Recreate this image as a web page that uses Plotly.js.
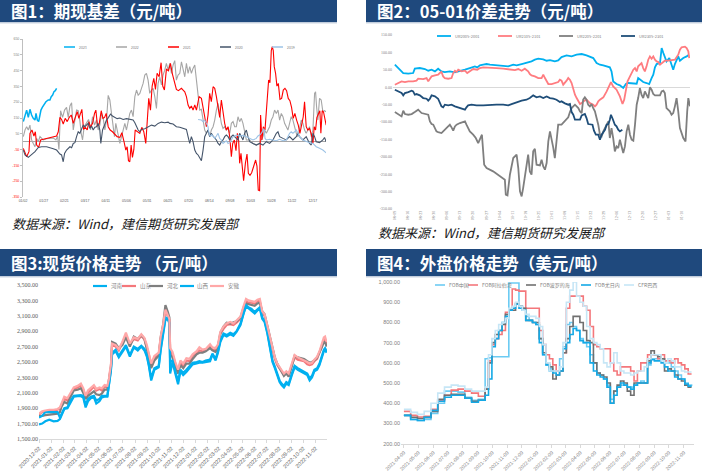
<!DOCTYPE html>
<html><head><meta charset="utf-8">
<script src="https://cdn.plot.ly/plotly-3.0.1.min.js"></script>
<style>html,body{margin:0;padding:0;background:#fff;}#chart{width:702px;height:474px;}</style>
</head><body><div id="chart"></div>
<script>
// ---------------- Panel 1: 期现基差 (day-of-year, value) ----------------
const p1Names = ['2023','2022','2021','2020','2019'];
const p1Colors = ['#00B0F0','#A6A6A6','#FF0000','#44546A','#9DC3E6'];
const p1TickVals = [2,27,52,77,102,127,152,177,202,227,252,277,302,327,352];
const p1TickText = ['01/02','01/27','02/21','03/17','04/11','05/06','05/31','06/25','07/20','08/14','09/08','10/03','10/28','11/22','12/17'];
const p1YTicks = [650,550,450,350,250,150,50,-50,-150,-250,-350];
const s2023 = [[2.4,127],[4.4,169],[6.4,200],[8.4,154],[10.4,205],[12.4,169],[14.4,148],[16.5,137],[17.7,179],[19.3,137],[20.9,127],[22.5,169],[23.7,200],[25.3,217],[27.3,232],[29.7,253],[32.5,264],[34.5,264],[36.1,285],[37.8,295],[39.4,317],[41.0,323],[42.6,338]];
const s2022 = [[2.4,32],[4.4,74],[6.4,95],[8.4,74],[10.4,105],[12.4,11],[14.4,-11],[16.5,-32],[18.5,21],[20.5,0],[22.5,32],[26.5,11],[30.5,19],[34.5,19],[38.6,23],[41.8,11],[43.8,36],[45.4,-49],[47.4,196],[49.8,154],[52.2,200],[54.6,217],[56.7,154],[58.7,226],[60.7,247],[62.7,74],[64.7,154],[66.7,200],[68.7,196],[70.7,133],[72.3,53],[73.9,11],[75.9,95],[78.8,116],[81.2,141],[83.6,74],[86.0,158],[88.4,105],[90.8,137],[92.8,74],[94.8,105],[96.8,179],[98.9,148],[100.9,74],[102.9,137],[104.9,293],[106.9,264],[108.9,179],[110.9,74],[112.5,32],[114.1,116],[115.7,84],[117.4,32],[119.0,-11],[121.0,32],[123.0,74],[125.0,116],[127.0,74],[129.0,137],[131.0,179],[133.0,200],[135.0,158],[137.1,285],[139.1,327],[141.1,295],[143.1,306],[145.1,338],[147.1,369],[149.1,422],[151.1,433],[153.1,390],[155.1,306],[157.2,327],[159.2,338],[161.2,285],[163.2,211],[165.2,369],[167.2,411],[169.2,359],[171.2,422],[173.2,453],[175.2,496],[177.3,453],[179.3,496],[181.3,433],[183.3,485],[185.3,513],[187.3,390],[189.3,422],[191.4,433],[193.4,506],[195.4,453],[197.4,411],[199.4,496],[201.4,433],[203.4,475],[205.4,433],[207.4,464],[209.5,485],[211.5,390],[213.5,306],[215.5,200],[217.5,205],[219.5,137],[221.5,74],[223.5,53],[225.5,74],[227.5,32],[229.5,74],[231.6,95],[233.6,137],[235.6,200],[237.6,243],[239.6,179],[241.6,116],[243.6,84],[245.6,95],[247.6,74],[249.7,84],[251.7,53],[253.7,116],[255.7,127],[257.7,95],[259.7,95],[261.7,158],[263.7,127],[265.7,148],[267.7,116],[269.7,53],[271.8,11],[275.8,11],[279.8,-11],[283.8,-21],[287.8,-11],[291.9,32],[293.9,74],[295.9,53],[297.9,74],[299.9,95],[301.9,137],[303.9,158],[305.9,200],[308.0,179],[310.0,200],[312.0,137],[314.0,179],[316.0,158],[318.0,116],[320.0,95],[322.0,74],[324.0,116],[326.0,158],[328.0,137],[330.1,95],[332.1,53],[334.1,32],[336.1,95],[338.1,137],[340.1,116],[342.1,74],[344.1,53],[346.1,74],[348.1,95],[350.2,32],[352.2,74],[354.2,306],[355.4,316],[356.6,222],[358.2,137],[360.2,274],[362.2,264],[364.2,190],[366.2,196],[368.2,190]];
const s2021 = [[2.4,-42],[6.4,-95],[9.2,-63],[10.4,53],[12.8,74],[15.2,36],[16.9,63],[18.5,-21],[20.9,-36],[23.3,11],[26.5,15],[30.5,21],[34.5,27],[38.6,32],[42.6,36],[44.6,63],[46.6,154],[48.6,141],[50.6,112],[53.0,148],[55.4,127],[57.9,154],[60.3,169],[62.7,116],[65.1,154],[67.5,190],[69.5,148],[71.5,184],[73.1,205],[75.1,78],[77.2,91],[79.6,74],[81.6,127],[83.6,91],[86.0,116],[88.4,179],[90.0,200],[92.0,99],[94.0,112],[96.5,196],[98.5,148],[100.5,154],[102.5,179],[104.9,95],[107.3,74],[110.1,63],[113.0,49],[115.7,32],[119.0,27],[121.4,57],[123.8,6],[126.2,-53],[127.8,-32],[129.4,-120],[131.0,-127],[132.6,-21],[134.2,-99],[135.9,-49],[137.5,74],[139.9,63],[143.1,53],[145.5,91],[147.9,63],[150.3,-11],[151.9,95],[153.9,274],[156.0,200],[158.0,352],[160.0,401],[162.0,331],[164.0,433],[166.4,411],[168.8,500],[170.8,352],[172.8,327],[175.2,458],[177.7,449],[180.1,496],[182.5,428],[184.9,369],[187.3,331],[189.7,323],[193.4,338],[195.4,327],[197.4,316],[199.4,285],[201.4,232],[203.4,211],[205.4,226],[207.4,200],[209.5,232],[211.5,200],[214.7,285],[217.5,274],[219.5,226],[221.5,158],[223.5,95],[225.5,169],[227.5,306],[229.5,253],[231.6,348],[233.6,338],[235.6,285],[237.6,222],[239.6,154],[241.6,264],[243.6,179],[245.6,116],[247.6,74],[249.7,95],[251.7,32],[253.7,-95],[255.3,-11],[257.3,11],[259.3,-57],[260.9,53],[262.5,6],[263.7,-137],[265.3,-74],[267.0,-184],[268.5,-247],[270.6,-137],[272.6,-78],[274.2,-200],[276.2,-213],[278.2,-196],[280.6,-158],[283.0,-116],[284.6,-154],[286.2,-306],[287.8,-310],[289.0,169],[290.6,11],[292.3,95],[294.3,74],[295.9,200],[297.1,327],[298.7,390],[300.3,373],[301.9,576],[303.1,601],[304.3,576],[305.5,475],[307.1,433],[308.7,352],[310.4,369],[312.4,268],[314.4,274],[316.4,327],[318.4,338],[320.4,323],[322.4,274],[324.4,260],[326.4,217],[328.4,148],[330.4,179],[332.5,137],[334.5,105],[336.5,53],[338.5,116],[340.5,158],[342.1,253],[344.1,95],[346.1,74],[348.1,84],[350.2,49],[352.2,-11],[353.8,95],[355.4,74],[357.0,154],[359.0,179],[360.6,196],[361.8,53],[363.4,196],[365.0,188],[367.0,137],[368.2,105]];
const s2020 = [[2.4,-53],[4.4,-84],[8.4,-99],[12.4,-84],[16.5,-63],[20.5,-36],[24.5,-32],[30.5,-32],[34.5,-36],[38.6,-44],[42.6,-53],[44.6,-70],[46.6,-78],[48.6,-84],[50.6,-127],[52.2,-74],[54.6,-53],[58.7,-32],[60.7,-38],[62.7,-11],[64.7,-6],[66.7,32],[68.7,63],[70.7,53],[72.7,74],[74.7,105],[76.7,95],[78.8,105],[80.8,116],[82.8,84],[84.8,99],[86.8,74],[88.8,91],[90.8,95],[92.8,116],[94.8,74],[96.0,-11],[98.1,74],[100.5,112],[102.9,137],[105.3,154],[107.7,175],[110.1,162],[113.0,154],[115.7,146],[119.0,150],[123.0,141],[127.0,146],[131.0,141],[135.0,137],[137.1,120],[139.1,95],[141.1,74],[143.1,63],[145.1,78],[149.1,82],[153.1,91],[157.2,105],[161.2,99],[165.2,116],[169.2,124],[173.2,120],[177.3,124],[179.3,116],[183.3,112],[187.3,95],[191.4,91],[195.4,84],[199.4,78],[201.4,32],[203.4,-11],[205.4,32],[207.4,0],[209.5,-53],[211.5,-74],[213.5,-84],[215.5,-105],[217.5,-120],[219.5,-53],[221.5,32],[223.5,53],[225.5,74],[227.5,32],[229.5,53],[231.6,36],[235.6,11],[237.6,-11],[239.6,-21],[241.6,0],[243.6,11],[245.6,32],[247.6,42],[249.7,32],[251.7,11],[253.7,32],[255.7,42],[259.7,21],[261.7,11],[263.7,53],[265.7,32],[267.7,11],[269.7,53],[271.8,74],[273.8,32],[275.8,0],[279.8,-11],[283.8,-21],[287.8,-11],[291.9,-21],[295.9,0],[299.9,-11],[303.9,11],[305.9,32],[308.0,53],[310.0,63],[312.0,32],[316.0,21],[320.0,11],[324.0,32],[328.0,11],[332.1,32],[334.1,53],[336.1,32],[340.1,11],[344.1,32],[348.1,-11],[350.2,-21],[352.2,53],[354.2,32],[356.2,0],[360.2,-6],[364.2,11],[366.2,27],[368.2,0]];
const s2019 = [[213.5,141],[217.5,137],[219.5,127],[221.5,137],[223.5,116],[225.5,95],[226.7,53],[228.3,32],[230.0,44],[231.6,32],[233.6,21],[235.6,36],[237.6,53],[239.6,21],[241.6,11],[243.6,-11],[245.6,0],[247.6,6],[249.7,-11],[251.7,-6],[253.7,11],[255.7,32],[257.7,36],[259.7,42],[263.7,36],[267.7,40],[271.8,32],[275.8,21],[279.8,11],[283.8,21],[285.8,36],[287.8,42],[289.9,53],[291.9,74],[293.1,84],[294.3,21],[295.9,11],[299.9,15],[303.9,11],[308.0,6],[312.0,15],[316.0,6],[320.0,11],[322.0,32],[324.0,53],[326.0,63],[328.0,53],[330.1,63],[332.1,74],[334.1,53],[336.1,32],[340.1,11],[344.1,0],[348.1,-6],[352.2,-11],[356.2,-32],[360.2,-42],[364.2,-53],[368.2,-70]];

// ---------------- Panel 2: 05-01价差 (days since 08-09, value) ----------------
const p2Names = ['UR2005-2001','UR2105-2101','UR2205-2201','UR2305-2301'];
const p2Colors = ['#00B0F0','#FF7C80','#7F7F7F','#1F4E79'];
const p2TickText = ['08-09','08-16','08-23','08-30','09-06','09-13','09-20','09-27','10-04','10-11','10-18','10-25','11-01','11-08','11-15','11-22','11-29','12-06','12-13','12-20','12-27','01-03','01-10'];
const p2YTicks = [150,100,50,0,-50,-100,-150,-200,-250,-300,-350];
const u2005 = [[0,64.6],[0.9,59.9],[2.7,50.3],[4.5,40.7],[7.2,38.8],[9.8,40.7],[10.7,53.2],[13.4,55.1],[16.1,52.2],[17.9,47.4],[19.7,50.3],[21.5,45.5],[23.2,53.2],[25.0,45.5],[26.8,43.6],[29.5,45.5],[32.2,42.6],[34.9,45.5],[37.6,50.3],[40.2,55.1],[42.9,59.9],[44.2,57.0],[45.6,62.7],[47.4,64.6],[49.2,66.6],[51.0,64.6],[54.5,62.7],[58.1,60.8],[60.8,59.9],[63.5,64.6],[65.3,62.7],[68.0,66.6],[70.6,69.4],[73.3,74.2],[75.1,79.0],[76.9,81.9],[79.6,80.0],[81.4,76.1],[83.2,78.0],[85.8,74.2],[87.6,77.1],[89.4,86.7],[92.1,91.5],[94.8,88.6],[97.5,93.4],[100.2,95.3],[102.8,91.5],[104.6,88.6],[106.4,83.8],[108.2,69.4],[110.0,64.6],[111.8,62.7],[113.6,59.9],[115.3,57.0],[116.2,45.5],[117.1,16.7],[118.9,9.1],[120.7,5.2],[122.5,-2.4],[123.9,9.1],[125.2,12.0],[127.9,12.0],[129.7,10.0],[130.5,26.3],[131.4,21.5],[133.2,14.8],[135.0,12.0],[136.4,9.1],[137.7,26.3],[138.6,35.9],[139.5,57.0],[140.4,66.6],[142.2,69.4],[143.1,112.5],[144.0,98.2],[145.7,74.2],[147.2,83.8],[148.4,64.6],[149.3,50.3],[150.2,66.6],[151.1,79.0],[152.0,88.6],[152.9,76.1],[154.7,83.8],[156.5,88.6],[157.7,93.4]];
const u2105 = [[0,7.2],[1.8,12.0],[3.6,16.7],[5.4,14.8],[7.2,16.7],[9.8,16.7],[11.6,18.7],[12.5,24.4],[15.2,23.4],[17.0,26.3],[17.9,16.7],[18.8,24.4],[19.7,31.1],[21.5,34.0],[23.2,35.9],[24.1,40.7],[25.0,43.6],[25.9,31.1],[26.8,26.3],[28.6,24.4],[30.4,26.3],[31.3,40.7],[32.2,47.4],[33.1,43.6],[34.0,50.3],[35.8,45.5],[37.6,47.4],[38.8,40.7],[40.2,45.5],[42.0,52.2],[44.2,50.3],[45.6,55.1],[47.4,57.0],[51.0,57.0],[54.5,55.1],[58.1,53.2],[61.7,50.3],[64.4,49.3],[66.2,52.2],[68.0,47.4],[69.7,53.2],[71.5,45.5],[72.4,37.8],[73.3,34.0],[75.1,31.1],[76.9,26.3],[78.7,26.3],[79.6,35.9],[80.5,26.3],[81.4,16.7],[82.3,9.1],[84.1,9.1],[85.8,12.0],[87.6,14.8],[88.5,21.5],[89.4,18.7],[90.3,7.2],[91.2,12.0],[92.1,18.7],[93.0,26.3],[93.9,21.5],[94.8,12.0],[95.7,-7.2],[96.6,-21.6],[97.5,-31.2],[98.4,-40.7],[99.3,-48.4],[100.2,-45.5],[101.0,-40.7],[102.8,-35.9],[104.6,-45.5],[106.4,-50.3],[107.3,-55.1],[108.2,-50.3],[109.1,-40.7],[110.0,-35.9],[111.8,-29.2],[113.6,-12.0],[115.3,7.2],[115.9,14.8],[117.1,2.4],[118.9,-7.2],[120.7,-26.4],[122.1,-48.4],[123.0,-35.9],[123.9,-12.0],[124.8,16.7],[126.1,31.1],[127.0,40.7],[127.9,50.3],[128.8,55.1],[129.7,45.5],[130.5,59.9],[131.4,64.6],[132.3,69.4],[133.2,55.1],[134.1,45.5],[135.0,59.9],[135.9,79.0],[136.8,88.6],[137.7,81.9],[138.6,88.6],[139.5,79.0],[140.4,74.2],[141.3,72.3],[142.2,64.6],[143.1,69.4],[144.0,74.2],[144.8,76.1],[146.6,76.1],[148.4,78.0],[150.2,79.0],[152.0,93.4],[152.9,107.8],[153.8,114.5],[155.6,116.4],[156.5,112.5],[157.4,103.0],[157.9,83.8]];
const u2205 = [[0,-71.4],[1.8,-77.1],[3.6,-83.9],[4.5,-67.6],[5.4,-77.1],[7.2,-79.1],[9.0,-77.1],[10.7,-71.4],[12.5,-64.7],[14.3,-74.3],[16.1,-77.1],[17.9,-79.1],[18.8,-98.2],[19.7,-105.9],[20.6,-107.8],[21.5,-117.4],[22.3,-127.0],[23.2,-128.9],[25.0,-131.8],[25.9,-127.0],[26.8,-122.2],[27.7,-117.4],[28.6,-112.6],[29.5,-107.8],[30.4,-115.5],[31.3,-125.0],[32.2,-112.6],[33.1,-107.8],[34.9,-103.0],[36.7,-100.1],[37.6,-98.2],[38.4,-107.8],[40.2,-127.0],[42.0,-136.5],[43.4,-146.1],[44.7,-160.5],[45.6,-151.0],[46.7,-136.5],[47.9,-222.8],[49.2,-232.3],[52.7,-241.9],[56.3,-256.3],[59.0,-265.9],[59.5,-309.0],[60.4,-310.9],[61.7,-251.5],[63.5,-203.6],[65.3,-194.0],[66.2,-232.3],[67.1,-299.4],[68.0,-313.8],[68.8,-289.8],[70.6,-222.8],[71.5,-194.0],[72.4,-241.9],[73.3,-251.5],[74.2,-184.4],[75.1,-176.8],[76.0,-222.8],[77.8,-224.7],[78.7,-208.4],[79.6,-227.6],[80.5,-237.1],[81.4,-218.0],[82.3,-155.7],[83.2,-127.0],[85.0,-174.9],[85.8,-203.6],[86.7,-155.7],[87.6,-107.8],[89.4,-107.8],[90.3,-103.0],[92.1,-93.4],[93.0,-86.7],[93.9,-71.4],[94.8,-59.9],[95.7,-55.1],[96.6,-50.3],[97.5,-55.1],[98.4,-59.9],[99.3,-69.5],[100.2,-74.3],[101.0,-35.9],[101.9,-29.2],[102.8,-35.9],[103.7,-50.3],[104.6,-55.1],[105.5,-48.4],[106.4,-59.9],[107.3,-69.5],[108.2,-88.6],[109.1,-107.8],[110.0,-136.5],[110.9,-141.3],[111.8,-127.0],[112.7,-117.4],[113.6,-107.8],[114.5,-98.2],[115.3,-146.1],[116.2,-117.4],[117.1,-146.1],[118.0,-184.4],[118.9,-170.1],[119.8,-174.9],[120.7,-150.9],[121.6,-173.0],[122.5,-189.2],[123.4,-170.1],[124.3,-127.0],[125.2,-107.8],[126.1,-136.5],[127.0,-150.9],[127.9,-153.8],[128.8,-107.8],[129.7,-50.3],[130.5,-31.2],[131.4,-2.4],[132.3,-21.6],[133.2,-31.2],[134.1,-12.0],[135.0,-21.6],[135.9,-31.2],[136.8,-0.5],[137.7,-7.2],[138.6,-19.7],[139.5,-23.5],[142.2,-23.5],[143.1,-12.0],[144.0,-10.1],[144.8,-16.8],[145.7,-59.9],[146.6,-64.7],[147.5,-69.5],[148.4,-79.1],[149.3,-74.3],[150.2,-55.1],[151.1,-31.2],[152.0,-69.5],[152.9,-117.4],[154.7,-146.1],[155.9,-155.7],[156.8,-69.5],[157.4,-31.2],[158.3,-55.1]];
const u2305 = [[0,-7.2],[1.8,-12.0],[3.6,-16.8],[4.5,-23.5],[5.4,-16.8],[7.2,-13.9],[9.0,-10.1],[9.8,-12.0],[10.7,-21.6],[11.6,-19.7],[13.4,-23.5],[15.2,-31.2],[17.0,-33.1],[17.9,-38.8],[18.8,-33.1],[19.7,-23.5],[21.5,-26.4],[23.2,-33.1],[24.1,-45.5],[25.0,-55.1],[25.9,-58.0],[26.8,-50.3],[28.6,-52.2],[30.4,-50.3],[32.2,-55.1],[34.0,-58.0],[35.8,-61.8],[37.6,-64.7],[38.4,-58.0],[39.3,-52.2],[41.1,-50.3],[43.8,-52.2],[47.4,-52.2],[51.0,-50.3],[54.5,-50.3],[58.1,-50.3],[60.8,-52.2],[62.6,-48.4],[65.3,-42.7],[68.0,-38.8],[70.6,-35.9],[72.4,-31.2],[74.2,-23.5],[76.0,-29.2],[77.8,-26.4],[79.6,-31.2],[81.4,-26.4],[83.2,-31.2],[85.0,-33.1],[86.7,-36.0],[88.5,-42.7],[89.4,-40.7],[91.2,-46.5],[93.0,-50.3],[93.9,-48.4],[94.8,-71.4],[95.7,-79.1],[96.6,-93.4],[99.3,-93.4],[100.2,-81.0],[101.9,-77.1],[102.8,-88.6],[103.7,-105.9],[106.0,-107.8],[106.8,-125.0],[107.8,-136.5],[109.1,-136.5],[110.0,-150.9],[110.9,-136.5],[111.8,-128.9],[112.7,-122.2],[113.6,-107.8],[114.5,-105.9],[115.3,-93.4],[115.9,-79.1],[116.8,-90.6],[118.0,-107.8],[118.9,-112.6],[119.8,-122.2],[120.7,-127.0],[122.0,-122.2]];

// ---------------- Panel 3: 现货价格 ----------------
const p3Names = ['河南','山东','河北','山西','安徽'];
const p3Colors = ['#00B0F0','#F4777B','#7F7F7F','#00B0F0','#FFA8A8'];
const p3TickVals = ['2020-12-02','2021-01-02','2021-02-02','2021-03-02','2021-04-02','2021-05-02','2021-06-02','2021-07-02','2021-08-02','2021-09-02','2021-10-02','2021-11-02','2021-12-02','2022-01-02','2022-02-02','2022-03-02','2022-04-02','2022-05-02','2022-06-02','2022-07-02','2022-08-02','2022-09-02','2022-10-02','2022-11-02'];
const dates3 = ['2020-12-02','2020-12-10','2020-12-18','2020-12-28','2021-01-08','2021-01-18','2021-01-24','2021-01-28','2021-02-04','2021-02-12','2021-02-20','2021-02-28','2021-03-10','2021-03-18','2021-03-24','2021-03-30','2021-04-05','2021-04-12','2021-04-20','2021-04-26','2021-05-04','2021-05-10','2021-05-17','2021-05-24','2021-05-28','2021-05-31','2021-06-02','2021-06-05','2021-06-14','2021-06-22','2021-07-01','2021-07-10','2021-07-20','2021-07-30','2021-08-09','2021-08-18','2021-08-26','2021-09-01','2021-09-06','2021-09-12','2021-09-20','2021-10-01','2021-10-06','2021-10-12','2021-10-18','2021-10-24','2021-10-28','2021-10-30','2021-11-05','2021-11-12','2021-11-19','2021-11-25','2021-12-02','2021-12-10','2021-12-18','2021-12-26','2022-01-05','2022-01-12','2022-01-20','2022-01-28','2022-02-08','2022-02-14','2022-02-22','2022-02-28','2022-03-06','2022-03-14','2022-03-22','2022-03-31','2022-04-08','2022-04-16','2022-04-26','2022-05-04','2022-05-10','2022-05-16','2022-05-24','2022-06-01','2022-06-08','2022-06-14','2022-06-20','2022-06-26','2022-07-03','2022-07-11','2022-07-16','2022-07-22','2022-07-28','2022-08-03','2022-08-08','2022-08-14','2022-08-20','2022-08-26','2022-09-03','2022-09-10','2022-09-18','2022-09-26','2022-10-04','2022-10-12','2022-10-18','2022-10-24','2022-10-30','2022-11-06','2022-11-12','2022-11-18','2022-11-23','2022-11-26','2022-11-30'];
const henan = [1690,1700,1730,1750,1730,1735,1760,1800,1890,1900, 1980,2050,2055,2055,2040,1910,1990,2030,2040,1960, 1990,2040,2050,2050,2200,2320,2380,2600,2640,2560, 2630,2700,2570,2690,2650,2700,2650,2570,2450,2260, 2400,2430,2650,2850,3050,3060,3000,2350,2500,2350, 2210,2380,2330,2370,2420,2470,2480,2490,2490,2500, 2510,2600,2520,2620,2760,2850,2830,2860,2840,2890, 2980,3130,3220,3200,3170,3130,3170,3190,3060,3020, 2870,2630,2500,2420,2330,2240,2200,2170,2220,2200, 2330,2430,2400,2380,2350,2330,2260,2300,2380,2400, 2460,2560,2640,2660,2620];
const shandong = [1820,1850,1860,1870,1870,1880,1900,1950,2020,2000, 2080,2150,2170,2200,2140,2040,2100,2140,2180,2130, 2150,2130,2180,2170,2260,2380,2440,2720,2700,2650, 2740,2850,2720,2800,2780,2840,2790,2700,2600,2450, 2550,2600,2800,2950,3150,3100,3050,2650,2600,2480, 2380,2500,2450,2520,2510,2580,2620,2650,2640,2650, 2700,2660,2650,2700,2860,2930,2980,2990,2980,3010, 3060,3200,3290,3270,3270,3260,3290,3290,3140,3100, 2950,2760,2660,2540,2460,2410,2370,2330,2360,2330, 2460,2560,2530,2520,2510,2470,2460,2470,2510,2540, 2620,2700,2780,2790,2720];
const hebei = [1800,1800,1810,1815,1820,1830,1850,1920,1980,1960, 2050,2130,2140,2160,2100,2020,2060,2090,2120,2080, 2070,2090,2140,2140,2240,2360,2420,2760,2740,2680, 2720,2820,2700,2830,2800,2850,2800,2680,2560,2420, 2520,2580,2820,2980,3240,3150,3080,2600,2560,2440, 2350,2460,2420,2480,2480,2540,2600,2620,2620,2640, 2680,2650,2630,2700,2880,2960,3010,3000,3010,3030, 3080,3210,3260,3250,3240,3230,3260,3270,3160,3120, 2970,2780,2680,2560,2480,2420,2360,2320,2350,2310, 2450,2580,2560,2550,2540,2510,2490,2500,2520,2560, 2620,2690,2760,2760,2700];
const shanxi = [1780,1800,1850,1850,1850,1850,1780,1830,1900,1910, 2000,2060,2070,2070,2060,1940,2020,2050,2060,2000, 2020,2060,2060,2060,2210,2330,2400,2620,2660,2580, 2650,2720,2590,2700,2670,2710,2670,2590,2470,2290, 2420,2450,2670,2870,3080,3070,3010,2500,2520,2380, 2250,2400,2360,2400,2440,2490,2500,2510,2500,2520, 2530,2610,2540,2640,2780,2870,2850,2880,2860,2900, 3000,3150,3240,3210,3190,3150,3190,3210,3080,3040, 2890,2650,2520,2440,2350,2260,2220,2190,2240,2220, 2350,2450,2420,2400,2370,2350,2290,2320,2400,2420, 2480,2580,2660,2680,2640];
const anhui = [1830,1860,1870,1880,1880,1890,1910,1970,2050,2030, 2110,2170,2190,2220,2160,2060,2130,2160,2200,2150, 2170,2160,2200,2190,2280,2400,2460,2740,2720,2670, 2760,2880,2740,2820,2800,2860,2810,2720,2620,2480, 2580,2620,2830,2980,3180,3120,3060,2680,2630,2500, 2400,2520,2480,2550,2540,2600,2640,2690,2660,2670, 2730,2690,2680,2730,2890,2960,3000,3020,3000,3040, 3090,3230,3320,3300,3290,3280,3310,3320,3160,3120, 2970,2780,2680,2560,2480,2430,2390,2350,2380,2350, 2480,2590,2560,2540,2530,2500,2480,2490,2530,2570, 2640,2730,2820,2830,2760];

// ---------------- Panel 4: 外盘价格 ----------------
const p4Names = ['FOB中国','FOB阿拉伯湾','FOB波罗的海','FOB尤日内','CFR巴西'];
const p4Colors = ['#6CCBF3','#F4777B','#707070','#14A9E6','#C6E6F6'];
const p4TickVals = ['2021-04-09','2021-05-09','2021-06-09','2021-07-09','2021-08-09','2021-09-09','2021-10-09','2021-11-09','2021-12-09','2022-01-09','2022-02-09','2022-03-09','2022-04-09','2022-05-09','2022-06-09','2022-07-09','2022-08-09','2022-09-09','2022-10-09','2022-11-09'];
const dates4 = ['2021-04-09','2021-04-23','2021-05-07','2021-05-21','2021-06-04','2021-06-18','2021-07-02','2021-07-16','2021-07-30','2021-08-13','2021-08-27','2021-09-10','2021-09-24','2021-10-01','2021-10-08','2021-10-15','2021-10-22','2021-10-29','2021-11-05','2021-11-12','2021-11-19','2021-11-26','2021-12-03','2021-12-10','2021-12-17','2021-12-24','2021-12-31','2022-01-07','2022-01-14','2022-01-21','2022-01-28','2022-02-04','2022-02-11','2022-02-18','2022-02-25','2022-03-04','2022-03-11','2022-03-18','2022-03-25','2022-04-01','2022-04-08','2022-04-15','2022-04-22','2022-04-29','2022-05-06','2022-05-13','2022-05-20','2022-05-27','2022-06-03','2022-06-10','2022-06-17','2022-06-24','2022-07-01','2022-07-08','2022-07-15','2022-07-22','2022-07-29','2022-08-05','2022-08-12','2022-08-19','2022-08-26','2022-09-02','2022-09-09','2022-09-16','2022-09-23','2022-09-30','2022-10-07','2022-10-14','2022-10-21','2022-10-28','2022-11-04','2022-11-11','2022-11-18','2022-11-25'];
const fobChina = [340,320,315,320,350,400,460,460,455,430, 415,420,620,625,630,630,630,630,630,995, 995,995,880,870,830,810,800,790,720,640, 590,570,560,560,620,680,790,800,780,760, 720,700,680,640,600,550,540,520,490,420, 460,480,490,490,480,480,490,500,510,500, 590,620,620,620,620,600,600,580,560,540, 520,500,490,485];
const fobGulf = [360,340,332,335,370,415,440,465,470,460, 450,435,470,610,690,720,740,760,850,860, 965,960,955,955,870,870,870,870,760,690, 640,620,590,560,560,650,870,930,930,930, 930,880,860,780,690,680,670,670,670,600, 560,540,580,580,580,560,510,560,600,600, 640,640,640,620,640,610,610,600,620,600, 590,570,545,545];
const fobBaltic = [340,330,325,330,360,420,440,445,445,425, 410,415,470,600,700,740,760,790,840,860, 860,895,880,870,810,810,800,800,720,650, 600,580,520,540,560,650,720,780,830,830, 800,760,710,700,600,550,540,530,500,400, 460,490,510,500,460,440,500,500,500,500, 610,660,640,630,620,560,570,560,540,520, 510,490,480,480];
const fobYuzhny = [340,320,315,330,365,410,430,440,440,425, 405,415,440,520,680,720,760,800,830,860, 870,890,870,860,810,810,800,790,700,640, 590,560,550,540,560,670,700,740,770,760, 710,700,700,600,560,540,530,520,480,400, 440,480,500,490,480,470,490,500,500,500, 600,615,610,610,600,580,560,560,530,520, 520,495,485,485];
const cfrBrazil = [370,355,345,360,400,450,480,490,485,470, 460,460,480,640,720,760,790,800,820,870, 880,900,880,860,840,830,830,820,780,690, 600,560,560,560,580,700,900,960,1000,930, 900,880,780,720,700,690,670,600,580,600, 650,600,560,550,550,540,550,560,560,580, 620,640,640,640,610,600,620,610,580,580, 560,555,555,555];

// ---------------- build ----------------
const W = 702, H = 474;
const px = x => x / W;
const py = y => 1 - y / H;
const traces = [];
const shapes = [];
const annotations = [];

function pairTrace(series, name, color, width, xa, ya) {
  traces.push({type:'scatter', mode:'lines', name, x: series.map(p => p[0]), y: series.map(p => p[1]),
    xaxis: xa, yaxis: ya, line:{color, width}, showlegend:false, hoverinfo:'skip'});
}
function arrTrace(xs, ys, name, color, width, xa, ya, shape) {
  traces.push({type:'scatter', mode:'lines', name, x: xs, y: ys, xaxis: xa, yaxis: ya,
    line:{color, width, shape: shape || 'linear'}, showlegend:false, hoverinfo:'skip'});
}
[s2023, s2022, s2021, s2020, s2019].forEach((s, i) => pairTrace(s, p1Names[i], p1Colors[i], i === 0 ? 1.5 : 1.1, 'x', 'y'));
[u2005, u2105, u2205, u2305].forEach((s, i) => pairTrace(s, p2Names[i], p2Colors[i], 1.8, 'x2', 'y2'));
[henan, shandong, hebei, shanxi, anhui].forEach((s, i) => arrTrace(dates3, s, p3Names[i], p3Colors[i], 2.2, 'x3', 'y3'));
[fobChina, fobGulf, fobBaltic, fobYuzhny, cfrBrazil].forEach((s, i) => arrTrace(dates4, s, p4Names[i], p4Colors[i], 1.6, 'x4', 'y4', 'hv'));

function header(x0, x1, y0, y1, text) {
  shapes.push({type:'rect', xref:'paper', yref:'paper', x0:px(x0), x1:px(x1), y0:py(y1), y1:py(y0), fillcolor:'#1F497D', line:{width:0}});
  shapes.push({type:'line', xref:'paper', yref:'paper', x0:px(x0), x1:px(x1), y0:py(y1 + 0.8), y1:py(y1 + 0.8), line:{color:'#A9B8CE', width:1}});
  annotations.push({xref:'paper', yref:'paper', x:px(x0 + 9), y:py((y0 + y1) / 2), xanchor:'left', yanchor:'middle', showarrow:false,
    text:'<b>' + text + '</b>', font:{family:'Noto Sans CJK SC', size:16.5, color:'#FFFFFF'}});
}
header(0, 337, 0, 22, '图1：期现基差（元/吨）');
header(366, 702, 0, 22, '图2：05-01价差走势（元/吨）');
header(0, 337, 249, 276, '图3:现货价格走势 （元/吨）');
header(366, 702, 249, 276, '图4：外盘价格走势（美元/吨）');

function source(x, y) {
  annotations.push({xref:'paper', yref:'paper', x:px(x), y:py(y), xanchor:'left', yanchor:'middle', showarrow:false,
    text:'数据来源：Wind，建信期货研究发展部', font:{family:'Noto Sans CJK SC', size:13, color:'#1A1A1A', style:'italic'}});
}
source(10, 223);
source(376, 232);

function legend(names, colors, xs, y, len, size, lw) {
  names.forEach((n, i) => {
    shapes.push({type:'line', xref:'paper', yref:'paper', x0:px(xs[i]), x1:px(xs[i] + len), y0:py(y), y1:py(y), line:{color:colors[i], width:lw}});
    annotations.push({xref:'paper', yref:'paper', x:px(xs[i] + len + 1.5), y:py(y), xanchor:'left', yanchor:'middle', showarrow:false,
      text:n, font:{family:'Noto Sans CJK SC', size, color:'#7F7F7F'}});
  });
}
legend(p1Names, p1Colors, [64,116,168,220,272], 47, 11, 3.5, 1.5);
legend(p2Names, p2Colors, [437,498,559,621], 36, 14, 4, 1.8);
legend(p3Names, p3Colors, [93,122,149,180,210], 286, 14, 5.5, 2.2);
legend(p4Names, p4Colors, [435,468,526,581,624], 285, 10, 5, 1.6);

const layout = {
  width: W, height: H, margin:{l:0, r:0, t:0, b:0}, paper_bgcolor:'#FFFFFF', plot_bgcolor:'rgba(0,0,0,0)',
  showlegend:false, font:{family:'Liberation Sans, Noto Sans CJK SC'},
  xaxis:{domain:[px(23), px(326)], range:[2, 368], anchor:'y', tickmode:'array', tickvals:p1TickVals, ticktext:p1TickText,
    tickfont:{size:3.5, color:'#595959'}, showgrid:false, zeroline:false, showline:false, ticks:''},
  yaxis:{domain:[py(197), py(39)], range:[-350, 650], anchor:'x', tickmode:'array', tickvals:p1YTicks,
    ticktext:p1YTicks.map(v => v < 0 ? '<span style="color:#FF0000">' + v + '</span>' : String(v)),
    tickfont:{size:3.5, color:'#7F7F7F'}, showgrid:false, showline:true, linecolor:'#BFBFBF', linewidth:1,
    ticks:'outside', ticklen:2, tickcolor:'#BFBFBF', zeroline:true, zerolinecolor:'#A6A6A6', zerolinewidth:1},
  xaxis2:{domain:[px(393), px(690)], range:[-1, 158.3], anchor:'y2', tickmode:'array', tickvals:p2TickText.map((_, i) => i * 7),
    ticktext:p2TickText, tickangle:-90, tickfont:{size:4, color:'#7F7F7F', family:'Liberation Serif'},
    showgrid:false, zeroline:false, showline:false, ticks:''},
  yaxis2:{domain:[py(209), py(35)], range:[-350, 150], anchor:'x2', tickmode:'array', tickvals:p2YTicks,
    ticktext:p2YTicks.map(v => v.toFixed(2)), tickfont:{size:4, color:'#7F7F7F', family:'Liberation Serif'},
    showgrid:false, showline:false, zeroline:true, zerolinecolor:'#D9D9D9', zerolinewidth:1},
  xaxis3:{type:'date', domain:[px(39), px(327)], range:['2020-12-02', '2022-12-01'], anchor:'y3', tickmode:'array',
    tickvals:p3TickVals, tickformat:'%Y-%m-%d', tickangle:-45, tickfont:{size:5.5, color:'#595959'},
    showgrid:false, zeroline:false, showline:true, linecolor:'#D9D9D9', ticks:'outside', ticklen:3, tickcolor:'#D9D9D9'},
  yaxis3:{domain:[py(439), py(285)], range:[1500, 3500], anchor:'x3', dtick:200, tick0:1500, tickformat:',.2f',
    tickfont:{size:6, color:'#595959', family:'Liberation Serif'}, showgrid:false, zeroline:false, showline:false},
  xaxis4:{type:'date', domain:[px(401), px(694)], range:['2021-04-03', '2022-11-30'], anchor:'y4', tickmode:'array',
    tickvals:p4TickVals, tickformat:'%Y-%m-%d', tickangle:-45, tickfont:{size:5, color:'#7F7F7F'},
    showgrid:false, zeroline:false, showline:true, linecolor:'#D9D9D9', ticks:'outside', ticklen:3, tickcolor:'#D9D9D9'},
  yaxis4:{domain:[py(443.7), py(282)], range:[200, 1000], anchor:'x4', dtick:100, tick0:200, tickformat:',.2f',
    tickfont:{size:5.5, color:'#7F7F7F'}, showgrid:false, zeroline:false, showline:false},
  shapes, annotations
};
Plotly.newPlot('chart', traces, layout, {staticPlot:true, displayModeBar:false});
</script>
</body></html>
